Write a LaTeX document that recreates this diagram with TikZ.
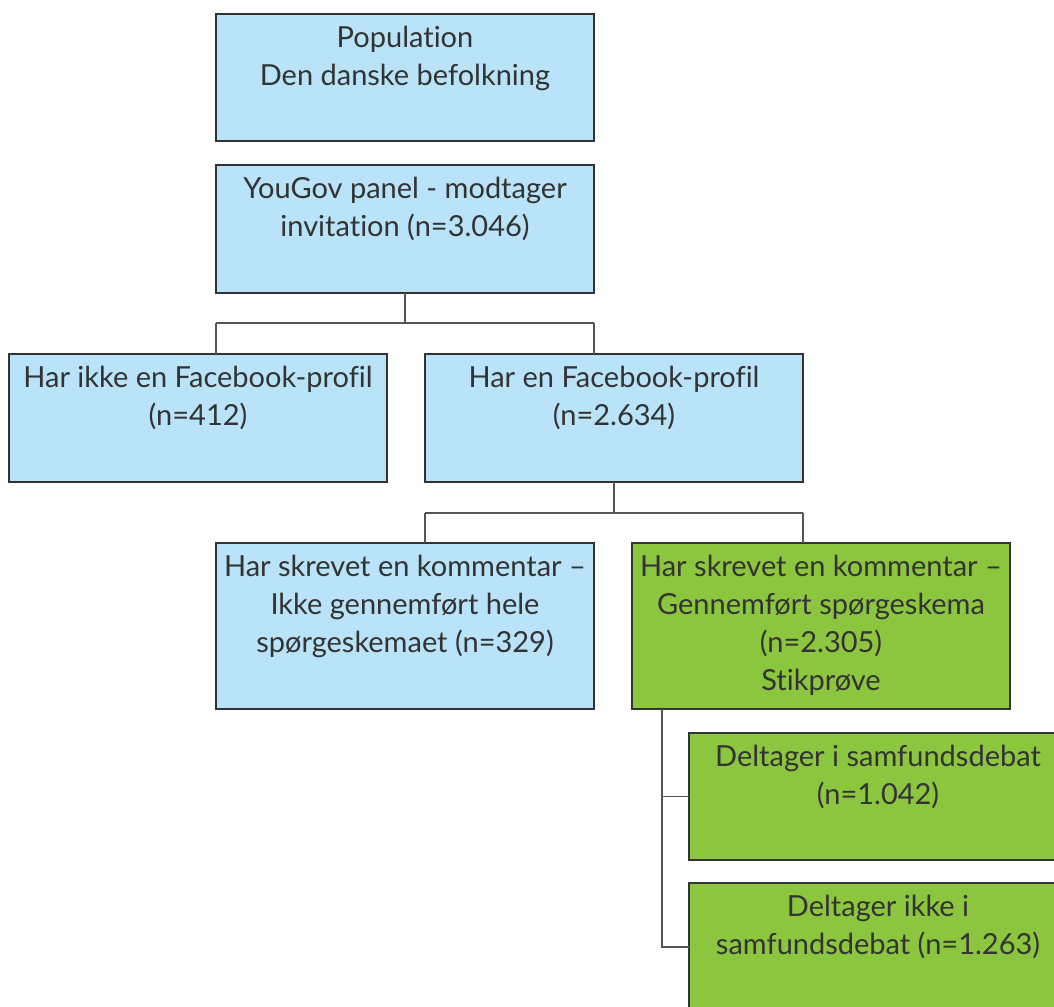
\documentclass[tikz,border=0pt]{standalone}
\usepackage{fontspec}
\setmainfont{Lato}[Ligatures={NoCommon}]
\definecolor{lblue}{HTML}{B9E3F8}
\definecolor{lgreen}{HTML}{8CC63F}
\definecolor{bord}{HTML}{333333}
\definecolor{conn}{HTML}{555555}
\tikzset{
  box/.style={draw=bord, line width=1.3pt, fill=lblue, inner sep=0pt, outer sep=0pt, anchor=north west},
  gbox/.style={box, fill=lgreen},
  conn/.style={draw=conn, line width=1.3pt}
}
\newcommand{\boxtext}[3]{\parbox[c][#2pt][t]{#1pt}{\centering\fontsize{29}{38}\selectfont\color{bord}\vspace*{12pt}#3\par}}
\begin{document}
\begin{tikzpicture}[x=1pt,y=-1pt]
\useasboundingbox (0,0) rectangle (1054,1006);
\clip (0,0) rectangle (1054,1006);
\node[box] (A) at (216,14) {\boxtext{378}{127}{Population\\Den danske befolkning}};
\node[box] (B) at (216,165) {\boxtext{378}{128}{YouGov panel - modtager\\invitation (n=3.046)}};
\node[box] (C) at (9,354) {\boxtext{378}{128}{Har ikke en Facebook-profil\\(n=412)}};
\node[box] (D) at (425,354) {\boxtext{378}{128}{Har en Facebook-profil\\(n=2.634)}};
\node[box] (E) at (216,543) {\boxtext{378}{166}{Har skrevet en kommentar –\\Ikke gennemført hele\\spørgeskemaet (n=329)}};
\node[gbox] (F) at (632,543) {\boxtext{378}{166}{Har skrevet en kommentar –\\Gennemført spørgeskema\\(n=2.305)\\Stikprøve}};
\node[gbox] (G) at (689,733) {\boxtext{378}{127}{Deltager i samfundsdebat\\(n=1.042)}};
\node[gbox] (H) at (689,883) {\boxtext{378}{128}{Deltager ikke i\\samfundsdebat (n=1.263)}};
\draw[conn] (B.south) -- ++(0,30) coordinate (b1);
\draw[conn] (b1 -| B.west) -- (b1 -| B.east);
\draw[conn] (b1 -| B.west) -- (C.north -| B.west);
\draw[conn] (b1 -| B.east) -- (D.north -| B.east);
\draw[conn] (D.south) -- ++(0,31) coordinate (d1);
\draw[conn] (d1 -| D.west) -- (d1 -| D.east);
\draw[conn] (d1 -| D.west) -- (E.north -| D.west);
\draw[conn] (d1 -| D.east) -- (F.north -| D.east);
\coordinate (f1) at ([xshift=30pt]F.south west);
\draw[conn] (f1) |- (H.west);
\draw[conn] (f1 |- G.west) -- (G.west);
\end{tikzpicture}
\end{document}
